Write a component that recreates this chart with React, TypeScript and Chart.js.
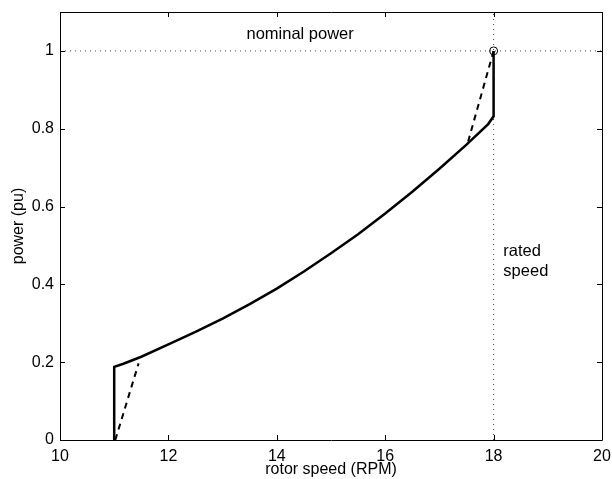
import React, { useEffect, useRef } from "react";
import { Chart, registerables } from "chart.js";

Chart.register(...registerables);

// Solid: operating curve (rotor speed RPM, power pu)
const solidSpeed = [11, 11, 11.17, 11.5, 12, 12.5, 13, 13.5, 14, 14.5, 15, 15.5, 16, 16.5, 17, 17.5, 17.9, 18, 18];
const solidPower = [0, 0.188, 0.196, 0.214, 0.246, 0.278, 0.312, 0.349, 0.389, 0.433, 0.48, 0.529, 0.582, 0.638, 0.697, 0.759, 0.812, 0.832, 1.0];

// Dashed: transition segments
const dashLowSpeed = [11.02, 11.45];
const dashLowPower = [0, 0.197];
const dashHighSpeed = [17.53, 18];
const dashHighPower = [0.767, 1.0];

// Reference lines
const nominalPower = 1.0;
const ratedSpeed = 18;
const xRange = [10, 20];
const yRange = [0, 1.1];

const xTicks = [10, 12, 14, 16, 18, 20];
const yTicks = [0, 0.2, 0.4, 0.6, 0.8, 1];

const annotations = [
  { text: "nominal power", x: 14.43, y: 1.042, align: "center" },
  { text: "rated", x: 18.18, y: 0.484, align: "left" },
  { text: "speed", x: 18.18, y: 0.433, align: "left" },
];

const FONT = "'Liberation Sans', Arial, Helvetica, sans-serif";

const zip = (xs: number[], ys: number[]) => xs.map((x, i) => ({ x, y: ys[i] }));

const framePlugin = {
  id: "frameAndTicks",
  afterDatasetsDraw(chart: any) {
    const { ctx, chartArea, scales } = chart;
    const { left, right, top, bottom } = chartArea;
    ctx.save();
    ctx.strokeStyle = "#000";
    ctx.lineWidth = 1;
    ctx.beginPath();
    ctx.rect(Math.round(left) + 0.5, Math.round(top) + 0.5, Math.round(right - left), Math.round(bottom - top));
    ctx.stroke();
    const len = 5;
    ctx.beginPath();
    xTicks.forEach((v) => {
      const px = Math.round(scales.x.getPixelForValue(v)) + 0.5;
      ctx.moveTo(px, bottom);
      ctx.lineTo(px, bottom - len);
      ctx.moveTo(px, top);
      ctx.lineTo(px, top + len);
    });
    yTicks.forEach((v) => {
      const py = Math.round(scales.y.getPixelForValue(v)) + 0.5;
      ctx.moveTo(left, py);
      ctx.lineTo(left + len, py);
      ctx.moveTo(right, py);
      ctx.lineTo(right - len, py);
    });
    ctx.stroke();
    ctx.fillStyle = "#000";
    ctx.font = `16.5px ${FONT}`;
    ctx.textBaseline = "middle";
    annotations.forEach((a) => {
      ctx.textAlign = a.align as CanvasTextAlign;
      ctx.fillText(a.text, scales.x.getPixelForValue(a.x), scales.y.getPixelForValue(a.y));
    });
    ctx.restore();
  },
};

export default function App() {
  const ref = useRef<HTMLCanvasElement>(null);
  useEffect(() => {
    if (!ref.current) return;
    const chart = new Chart(ref.current, {
      type: "scatter",
      data: {
        datasets: [
          {
            data: zip(solidSpeed, solidPower),
            showLine: true,
            borderColor: "#000",
            borderWidth: 2.5,
            pointRadius: 0,
            tension: 0,
            order: 1,
          },
          {
            data: zip(dashLowSpeed, dashLowPower),
            showLine: true,
            borderColor: "#000",
            borderWidth: 2,
            borderDash: [6, 5],
            pointRadius: 0,
            order: 1,
          },
          {
            data: zip(dashHighSpeed, dashHighPower),
            showLine: true,
            borderColor: "#000",
            borderWidth: 2,
            borderDash: [6, 5],
            pointRadius: 0,
            order: 1,
          },
          {
            data: [{ x: ratedSpeed, y: nominalPower }],
            showLine: false,
            pointRadius: 4,
            pointStyle: "circle",
            borderColor: "#000",
            borderWidth: 1,
            backgroundColor: "rgba(0,0,0,0)",
            order: 0,
          },
          {
            data: [{ x: xRange[0], y: nominalPower }, { x: xRange[1], y: nominalPower }],
            showLine: true,
            borderColor: "#444",
            borderWidth: 1,
            borderDash: [1, 4],
            pointRadius: 0,
            order: 3,
          },
          {
            data: [{ x: ratedSpeed, y: yRange[0] }, { x: ratedSpeed, y: yRange[1] }],
            showLine: true,
            borderColor: "#444",
            borderWidth: 1,
            borderDash: [1, 4],
            pointRadius: 0,
            order: 3,
          },
        ],
      },
      options: {
        animation: false,
        responsive: false,
        events: [],
        layout: { padding: { top: 12, right: 10, left: 0, bottom: 0 } },
        plugins: { legend: { display: false }, tooltip: { enabled: false } },
        scales: {
          x: {
            type: "linear",
            min: xRange[0],
            max: xRange[1],
            afterBuildTicks: (s: any) => {
              s.ticks = xTicks.map((v) => ({ value: v }));
            },
            afterFit: (s: any) => {
              s.height = 39;
              s.paddingLeft = 0;
              s.paddingRight = 0;
              s.paddingTop = 0;
              s.paddingBottom = 0;
            },
            grid: { display: false, drawTicks: false },
            border: { display: false },
            ticks: {
              padding: 7,
              color: "#000",
              font: { family: FONT, size: 16 },
              maxRotation: 0,
              autoSkip: false,
              callback: (v: any) => String(v),
            },
            title: {
              display: true,
              text: "rotor speed (RPM)",
              color: "#000",
              font: { family: FONT, size: 16 },
              padding: { top: 0, bottom: 0 },
            },
          },
          y: {
            type: "linear",
            min: yRange[0],
            max: yRange[1],
            afterBuildTicks: (s: any) => {
              s.ticks = yTicks.map((v) => ({ value: v }));
            },
            afterFit: (s: any) => {
              s.width = 60;
              s.paddingLeft = 0;
              s.paddingRight = 0;
              s.paddingTop = 0;
              s.paddingBottom = 0;
            },
            grid: { display: false, drawTicks: false },
            border: { display: false },
            ticks: {
              padding: 6,
              color: "#000",
              font: { family: FONT, size: 16 },
              autoSkip: false,
              callback: (v: any) => String(v),
            },
            title: {
              display: true,
              text: "power (pu)",
              color: "#000",
              font: { family: FONT, size: 16 },
              padding: { top: 9, bottom: 0 },
            },
          },
        },
      },
      plugins: [framePlugin],
    });
    return () => chart.destroy();
  }, []);
  return (
    <div style={{ position: "fixed", left: 0, top: 0, width: 612, height: 479, background: "#fff" }}>
      <canvas ref={ref} width={612} height={479} style={{ display: "block" }} />
    </div>
  );
}
